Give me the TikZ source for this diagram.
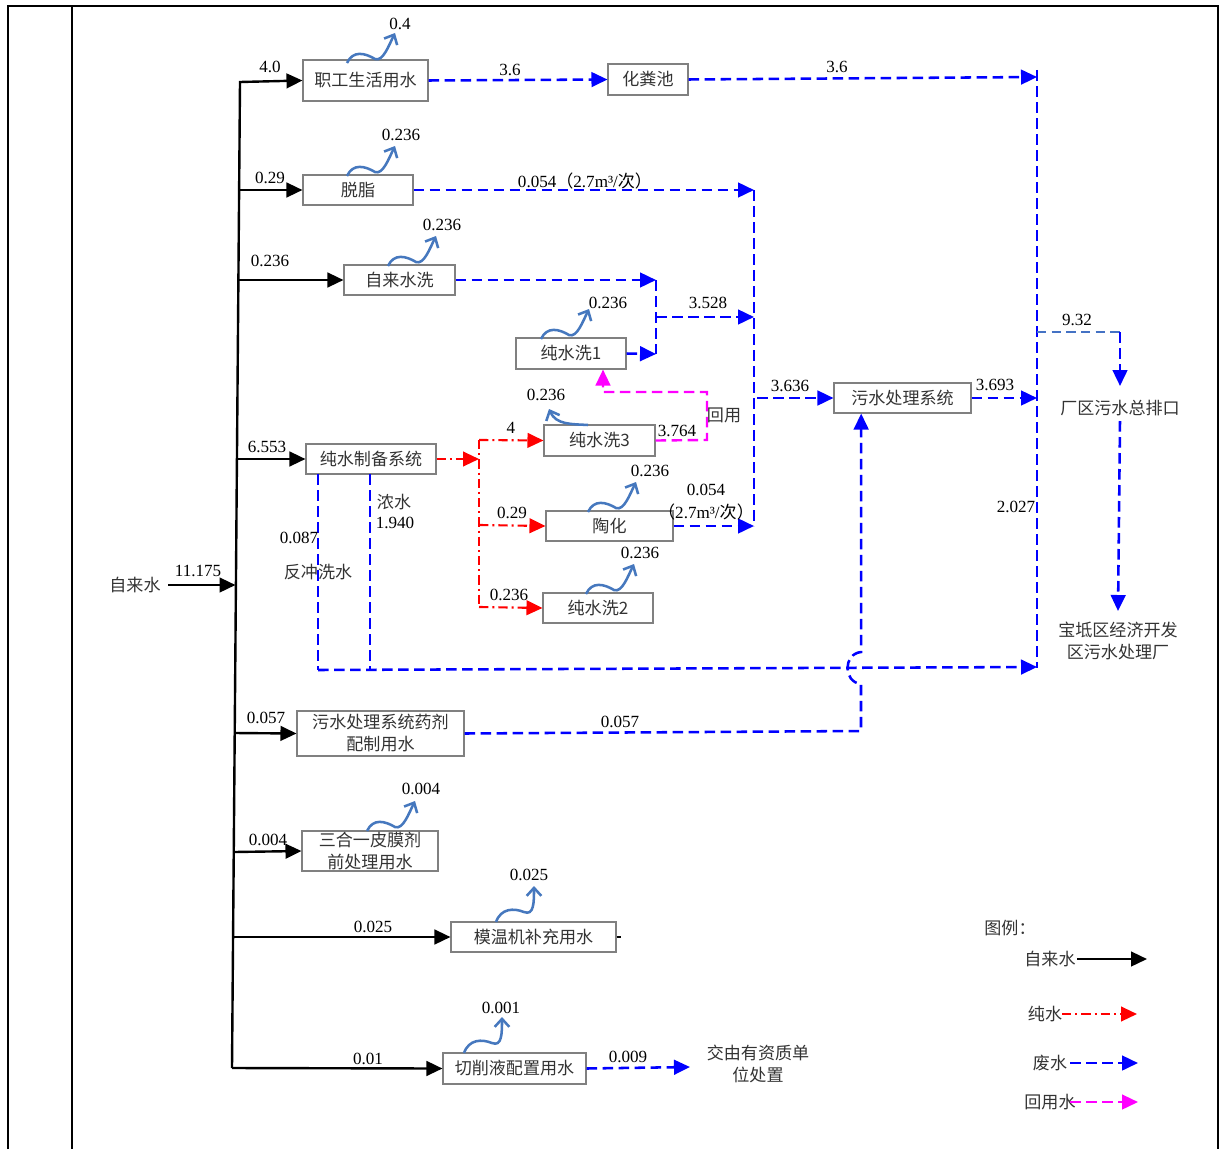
\documentclass[tikz,border=0pt]{standalone}
\usepackage{fontspec}
\setmainfont{Liberation Serif}
\newfontfamily\cjk{Noto Sans CJK SC}
\usetikzlibrary{arrows.meta}
\definecolor{evapblue}{RGB}{70,120,190}
\definecolor{steel}{RGB}{68,114,196}
\definecolor{wblue}{RGB}{0,0,255}
\definecolor{pred}{RGB}{255,0,0}
\definecolor{rmag}{RGB}{255,0,255}
\begin{document}
\begin{tikzpicture}[x=0.75pt,y=-0.75pt,
  box/.style={draw=black!50, line width=0.8pt, inner sep=0pt, align=center, font=\cjk\fontsize{12.8}{16.5}\selectfont, text=black!80},
  lbl/.style={inner sep=0pt, font=\fontsize{12.8}{14}\selectfont},
  cn/.style={inner sep=0pt, font=\cjk\fontsize{12.8}{16.5}\selectfont, text=black!80, align=center},
  tap/.style={draw=black, line width=1.8pt},
  tapa/.style={tap, -{Triangle[length=12pt,width=11pt]}},
  wst/.style={draw=wblue, line width=1.9pt, dash pattern=on 8pt off 4pt},
  wsta/.style={wst, -{Triangle[length=12pt,width=11pt]}},
  pure/.style={draw=pred, line width=1.6pt, dash pattern=on 7pt off 3pt on 1.5pt off 3pt},
  purea/.style={pure, -{Triangle[length=12pt,width=11pt]}},
  reuse/.style={draw=rmag, line width=1.8pt, dash pattern=on 8pt off 4pt},
  reusea/.style={reuse, -{Triangle[length=12pt,width=11pt]}},
  evap/.style={draw=evapblue, line width=1.9pt, -{Straight Barb[length=6pt,width=11pt]}},
  evapwave/.pic={\draw[evap] (0,0) .. controls (6,-13) and (18,-10) .. (28,-4) .. controls (36,-1) and (42,-18) .. (48,-30);},
  evapup/.pic={\draw[evap] (0,0) .. controls (5,-14) and (18,-14) .. (28,-10) .. controls (38,-6) and (38,-20) .. (38,-36);},
]
\useasboundingbox (0,0) rectangle (1219,1149);
% frame
\draw[line width=1.5pt] (8,1149) -- (8,6) -- (1218,6) -- (1218,1149);
\draw[line width=0.8pt] (72,6) -- (72,1149);

% boxes
\node[box, minimum width=93.75pt, minimum height=30.75pt] (b1) at (365.5,80.5) {职工生活用水};
\node[box, minimum width=82.5pt, minimum height=22.5pt] (b2) at (358,190) {脱脂};
\node[box, minimum width=83.25pt, minimum height=22.5pt] (b3) at (399.5,280) {自来水洗};
\node[box, minimum width=60pt, minimum height=23.25pt] (b4) at (648,79.5) {化粪池};
\node[box, minimum width=82.5pt, minimum height=23.25pt] (b5) at (571,353.5) {纯水洗1};
\node[box, minimum width=83.25pt, minimum height=23.25pt] (b6) at (599.5,440.5) {纯水洗3};
\node[box, minimum width=95.25pt, minimum height=22.5pt] (b7) at (609.5,526) {陶化};
\node[box, minimum width=82.5pt, minimum height=22.5pt] (b8) at (598,608) {纯水洗2};
\node[box, minimum width=97.5pt, minimum height=22.5pt] (b9) at (371,459) {纯水制备系统};
\node[box, minimum width=102.75pt, minimum height=22.5pt] (b10) at (902.5,398) {污水处理系统};
\node[box, minimum width=125.25pt, minimum height=33.75pt] (b11) at (380.5,733.5) {污水处理系统药剂\\配制用水};
\node[box, minimum width=102pt, minimum height=30pt] (b12) at (370,851) {三合一皮膜剂\\前处理用水};
\node[box, minimum width=123.75pt, minimum height=22.5pt] (b13) at (533.5,937) {模温机补充用水};
\node[box, minimum width=107.25pt, minimum height=23.25pt] (b14) at (514.5,1068.5) {切削液配置用水};

% tap water trunk
\coordinate (ttop) at (240,82);
\coordinate (tbot) at (232,1068);
\coordinate (t2) at (239.1,190);
\coordinate (t3) at (238.4,280);
\coordinate (t9) at (236.9,459);
\coordinate (t11) at (234.7,733);
\coordinate (t12) at (233.8,852);
\coordinate (t13) at (233.1,937);
\draw[tapa] (tbot) -- (ttop) -- (b1.west);
\draw[tapa] (t2) -- (b2.west);
\draw[tapa] (t3) -- (b3.west);
\draw[tapa] (t9) -- (b9.west);
\draw[tapa] (t11) -- (b11.west);
\draw[tapa] (t12) -- (b12.west);
\draw[tapa] (t13) -- (b13.west);
\draw[tapa] (tbot) -- (b14.west);
\draw[line width=1pt] (b13.east) -- ++(4,0);
\node[cn] (src) at (135,585) {自来水};
\coordinate (sin) at (168,585);
\coordinate (tin) at (235.5,585);
\draw[tapa] (sin) -- (tin);
\node[lbl] (l11175) at (198,571) {11.175};

% waste water
\coordinate (c1) at (1037,77);
\coordinate (m1) at (1037,70);
\coordinate (m2) at (1037,668);
\draw[wsta] (b1.east) -- (b4.west);
\draw[wsta] (b4.east) -- (c1);
\draw[wst] (m1) -- (m2);
\coordinate (v1t) at (754,190);
\coordinate (v1b) at (754,526);
\draw[wsta] (b2.east) -- (v1t);
\draw[wst] (v1t) -- (v1b);
\coordinate (v2t) at (656,280);
\coordinate (v2b) at (656,354);
\coordinate (v2m) at (656,317);
\coordinate (v1m) at (754,317);
\draw[wsta] (b3.east) -- (v2t);
\draw[wst] (v2t) -- (v2b);
\draw[wsta] (v2m) -- (v1m);
\draw[wsta] (b5.east) -- (v2b);
\draw[wsta] (b7.east) -- (v1b);
\coordinate (v1o) at (757,398);
\draw[wsta] (v1o) -- (b10.west);
\coordinate (m3) at (1037,398);
\draw[wsta] (b10.east) -- (m3);
\coordinate (m4) at (1037,332);
\coordinate (o1) at (1120,332);
\coordinate (o2) at (1120,386);
\draw[steel, line width=1.7pt, dash pattern=on 7pt off 4pt] (m4) -- (o1);
\draw[wsta] (o1) -- (o2);
\node[cn] (out1) at (1120,408) {厂区污水总排口};
\coordinate (o3) at (1120,421);
\coordinate (o4) at (1118,611);
\draw[wsta] (o3) -- (o4);
\node[cn] (out2) at (1118,641) {宝坻区经济开发\\区污水处理厂};
\coordinate (r1t) at (318,474);
\coordinate (r2t) at (370,474);
\coordinate (r1b) at (318,670);
\coordinate (r2b) at (370,670);
\coordinate (m5) at (1037,667);
\draw[wst] (r1t) -- (r1b);
\draw[wst] (r2t) -- (r2b);
\draw[wsta] (r1b) -- (m5);
\coordinate (d1) at (861,731);
\coordinate (d2) at (861,684);
\coordinate (d3) at (861,652);
\draw[wsta] (b11.east) -- (d1) -- (d2) .. controls (843,682) and (843,654) .. (d3) -- ([xshift=-31pt]b10.south);
\node[cn] (disp) at (758,1064) {交由有资质单\\位处置};
\coordinate (e1) at (690,1067);
\draw[wsta] (b14.east) -- (e1);

% pure water
\coordinate (p0) at (479,459);
\coordinate (p1) at (479,440);
\coordinate (p2) at (479,525);
\coordinate (p3) at (479,607);
\draw[purea] (b9.east) -- (p0);
\draw[pure] (p1) -- (p3);
\draw[purea] (p1) -- (b6.west);
\draw[purea] (p2) -- (b7.west);
\draw[purea] (p3) -- (b8.west);

% reuse
\coordinate (q1) at (707,440);
\coordinate (q2) at (707,392);
\coordinate (q3) at (603,392);
\draw[reusea] (b6.east) -- (q1) -- (q2) -- (q3) -- ([xshift=24pt]b5.south);

% evaporation
\pic at (347,63) {evapwave};
\pic at (347,176) {evapwave};
\pic at (388,266) {evapwave};
\pic at (541,339) {evapwave};
\pic at (588,512) {evapwave};
\pic at (586,594) {evapwave};
\pic at (367,831) {evapwave};
\pic at (496,922) {evapup};
\pic at (464,1053) {evapup};
\draw[evap] (588,425) .. controls (572,424) and (556,425) .. (549,409);

% labels
\node[lbl] (n1) at (400,24) {0.4};
\node[lbl] (n2) at (270,67) {4.0};
\node[lbl] (n3) at (401,135) {0.236};
\node[lbl] (n4) at (270,178) {0.29};
\node[lbl] (n5) at (442,225) {0.236};
\node[lbl] (n6) at (270,261) {0.236};
\node[lbl] (n7) at (510,70) {3.6};
\node[lbl] (n8) at (837,67) {3.6};
\node[lbl] (n9) at (585,181) {0.054{\cjk（}2.7m³/{\cjk 次）}};
\node[lbl] (n10) at (708,303) {3.528};
\node[lbl] (n11) at (608,303) {0.236};
\node[lbl] (n12) at (546,395) {0.236};
\node[lbl] (n13) at (511,428) {4};
\node[lbl] (n14) at (677,431) {3.764};
\node[cn] (n15) at (724,415) {回用};
\node[lbl] (n16) at (790,386) {3.636};
\node[lbl] (n17) at (995,385) {3.693};
\node[lbl] (n18) at (1077,320) {9.32};
\node[lbl] (n19) at (267,447) {6.553};
\node[lbl] (n20) at (650,471) {0.236};
\node[lbl] (n21) at (706,490) {0.054};
\node[lbl] (n22) at (706,512) {{\cjk（}2.7m³/{\cjk 次）}};
\node[lbl] (n23) at (512,513) {0.29};
\node[cn] (n24) at (394,502) {浓水};
\node[lbl] (n25) at (395,523) {1.940};
\node[lbl] (n26) at (299,538) {0.087};
\node[cn] (n27) at (318,572) {反冲洗水};
\node[lbl] (n28) at (640,553) {0.236};
\node[lbl] (n29) at (509,595) {0.236};
\node[lbl] (n30) at (1016,507) {2.027};
\node[lbl] (n31) at (266,718) {0.057};
\node[lbl] (n32) at (620,722) {0.057};
\node[lbl] (n33) at (421,789) {0.004};
\node[lbl] (n34) at (268,840) {0.004};
\node[lbl] (n35) at (529,875) {0.025};
\node[lbl] (n36) at (373,927) {0.025};
\node[lbl] (n37) at (501,1008) {0.001};
\node[lbl] (n38) at (368,1059) {0.01};
\node[lbl] (n39) at (628,1057) {0.009};

% legend
\node[cn] (lg) at (1010,928) {图例：};
\node[cn] (lg1) at (1050,959) {自来水};
\coordinate (lg1a) at (1077,959);
\coordinate (lg1b) at (1147,959);
\draw[tapa] (lg1a) -- (lg1b);
\node[cn] (lg2) at (1045,1014) {纯水};
\coordinate (lg2a) at (1062,1014);
\coordinate (lg2b) at (1137,1014);
\draw[purea] (lg2a) -- (lg2b);
\node[cn] (lg3) at (1050,1063) {废水};
\coordinate (lg3a) at (1070,1063);
\coordinate (lg3b) at (1138,1063);
\draw[wsta] (lg3a) -- (lg3b);
\node[cn] (lg4) at (1050,1102) {回用水};
\coordinate (lg4a) at (1070,1102);
\coordinate (lg4b) at (1138,1102);
\draw[reusea] (lg4a) -- (lg4b);
\end{tikzpicture}
\end{document}
